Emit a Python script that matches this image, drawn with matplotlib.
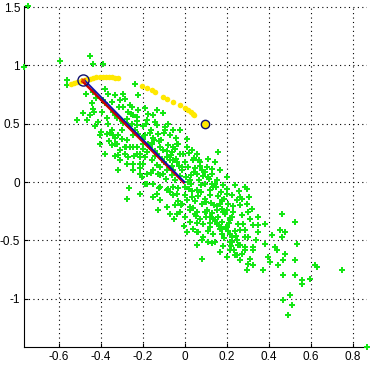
import numpy as np
import matplotlib
matplotlib.use('Agg')
import matplotlib.pyplot as plt

plt.rcParams['font.family'] = ['Liberation Sans', 'DejaVu Sans']
plt.rcParams['axes.unicode_minus'] = False

# green sample cloud
cloud_x = [
    -0.745, -0.763, -0.593, -0.45, -0.434, -0.387, -0.558, -0.561, -0.47, -0.434,
    -0.379, -0.363, -0.236, -0.22, -0.291, -0.442, -0.482, -0.45, -0.434, -0.394,
    -0.347, -0.307, -0.291, -0.251, -0.513, -0.466, -0.41, -0.426, -0.363, -0.347,
    -0.299, -0.315, -0.268, -0.244, -0.228, -0.331, -0.331, -0.283, -0.26, -0.43,
    -0.402, -0.379, -0.347, -0.323, -0.299, -0.275, -0.315, -0.283, -0.26, -0.228,
    -0.268, -0.402, -0.355, -0.331, -0.221, -0.188, -0.15, -0.102, -0.179, -0.131,
    -0.226, -0.331, -0.307, -0.244, -0.212, -0.164, -0.156, -0.132, -0.117, -0.085,
    -0.053, -0.021, 0.01, 0.042, 0.058, -0.053, -0.101, -0.149, -0.18, -0.196,
    -0.244, -0.275, -0.307, -0.274, -0.37, -0.339, -0.315, -0.212, -0.204, -0.263,
    -0.125, -0.18, -0.149, -0.132, -0.125, -0.228, -0.196, -0.164, -0.244, -0.275,
    -0.172, -0.132, -0.14, -0.093, -0.053, 0.01, 0.034, 0.058, 0.074, 0.106,
    0.13, 0.161, -0.283, -0.244, -0.212, -0.188, -0.117, -0.085, -0.069, -0.045,
    -0.077, -0.037, 0.026, 0.058, 0.098, 0.137, 0.121, 0.034, -0.149, -0.212,
    -0.013, -0.101, -0.156, -0.196, -0.22, -0.125, -0.109, -0.006, -0.03, -0.132,
    -0.188, -0.212, 0.098, -0.085, -0.053, -0.117, -0.085, -0.045, -0.021, 0.026,
    0.05, 0.026, 0.09, 0.121, 0.153, 0.137, 0.177, 0.201, 0.225, 0.193,
    0.169, 0.209, 0.225, 0.249, 0.185, 0.13, 0.082, 0.01, 0.058, 0.082,
    0.113, 0.145, 0.058, 0.082, 0.169, 0.201, 0.225, 0.217, 0.249, 0.256,
    0.002, -0.053, -0.117, 0.01, -0.013, -0.037, -0.069, 0.074, 0.106, 0.153,
    0.177, 0.217, 0.232, 0.256, 0.121, 0.169, 0.24, 0.288, 0.201, 0.177,
    0.272, 0.309, 0.296, 0.264, 0.32, 0.201, 0.272, 0.312, 0.463, 0.526,
    0.383, 0.351, 0.328, 0.264, 0.288, 0.217, 0.304, 0.351, 0.415, 0.455,
    0.479, 0.463, 0.534, 0.383, 0.431, 0.439, 0.479, 0.47, 0.526, 0.399,
    0.407, 0.328, 0.288, 0.272, 0.264, 0.312, 0.304, 0.328, 0.296, 0.375,
    0.447, 0.47, 0.526, 0.558, 0.558, 0.598, 0.621, 0.63, 0.749, 0.47,
    0.502, 0.51, 0.494, 0.24, 0.264, 0.217, 0.249, 0.868, 0.288, 0.328,
    0.13, 0.169, 0.201, 0.296, 0.264, 0.153, 0.113, 0.145,
    -0.02, 0.03, 0.07, -0.06, 0.0, 0.05, -0.04, 0.09, 0.12, 0.08,
    -0.09, -0.07, 0.02, 0.1, 0.04, -0.03, 0.14, 0.18, 0.16, 0.2,
    0.0, 0.06, 0.1, 0.13, -0.1, -0.14, -0.18, -0.12, -0.08, -0.04,
    -0.2, -0.24, -0.1, -0.16, -0.19, -0.06, 0.02, 0.07, 0.11, -0.16,
    -0.21, -0.12, 0.05, 0.15, 0.19, 0.23, 0.21, 0.16, 0.11, 0.04,
    0.13, 0.19, 0.24, 0.28, 0.3, 0.26, 0.35, 0.29, 0.34, 0.22,
    -0.3, -0.27, -0.34, -0.38, -0.4, -0.36, -0.25, -0.2, -0.08, -0.02,
    -0.15, -0.28, -0.33, -0.06, -0.01, 0.03, 0.08, -0.03, 0.0, 0.06,
    -0.05, 0.12, 0.18, 0.09,
    0.015, 0.045, 0.085, 0.115, 0.145, 0.175, -0.035, -0.065, 0.035, 0.065,
    0.095, 0.125, 0.155, 0.185, 0.215, -0.015, 0.025, 0.055, 0.105, 0.135,
    0.165, 0.195, 0.225, 0.245, 0.075, 0.045, 0.005, -0.025, -0.055, -0.085,
    -0.115, -0.145, -0.175, -0.205, -0.235, -0.265, -0.295, -0.32, -0.14, -0.11,
    -0.07, -0.035, 0.015, 0.095, 0.145, 0.205, 0.235, 0.185, 0.065, -0.005,
    -0.045, -0.095, -0.165, -0.185, -0.225, -0.255, -0.31, -0.37, -0.39, -0.42,
]
cloud_y = [
    1.51, 0.99, 1.04, 1.08, 1.015, 1.015, 0.877, 0.835, 0.758, 0.772,
    0.80, 0.758, 0.844, 0.744, 0.758, 0.678, 0.592, 0.572, 0.63, 0.60,
    0.686, 0.70, 0.643, 0.643, 0.53, 0.53, 0.515, 0.478, 0.50, 0.443,
    0.443, 0.40, 0.486, 0.40, 0.557, 0.572, 0.744, 0.715, 0.658, 0.60,
    0.33, 0.243, 0.315, 0.33, 0.372, 0.358, 0.229, 0.243, 0.30, 0.30,
    0.214, 0.40, 0.417, 0.375, 0.615, 0.632, 0.572, 0.589, 0.53, 0.486,
    0.486, 0.329, 0.272, 0.30, 0.214, 0.30, 0.186, 0.243, 0.129, 0.214,
    0.30, 0.243, 0.30, 0.186, 0.072, 0.10, 0.072, 0.10, 0.072, 0.158,
    0.10, 0.158, 0.186, -0.15, 0.415, 0.40, 0.10, 0.158, 0.043, -0.048,
    -0.243, -0.014, -0.014, -0.10, 0.072, 0.243, 0.286, 0.315, 0.572, 0.544,
    0.587, 0.615, 0.515, 0.472, 0.443, 0.372, 0.272, 0.243, 0.172, 0.129,
    0.072, 0.257, 0.30, 0.158, 0.072, -0.014, 0.057, 0.10, 0.186, 0.015,
    -0.057, -0.10, 0.015, -0.071, -0.014, -0.043, -0.114, -0.129, -0.129, -0.10,
    0.129, 0.272, 0.329, 0.372, 0.415, 0.415, 0.20, 0.243, 0.329, 0.143,
    0.214, 0.243, 0.086, -0.071, -0.114, -0.157, -0.214, -0.20, -0.257, -0.214,
    -0.271, -0.343, -0.357, -0.30, -0.357, -0.443, -0.443, -0.386, -0.30, -0.271,
    -0.185, -0.185, -0.114, -0.157, -0.028, -0.014, -0.185, -0.429, -0.429, -0.50,
    -0.515, -0.515, -0.543, -0.657, -0.60, -0.643, -0.515, -0.586, -0.629, -0.543,
    -0.043, -0.043, -0.043, -0.157, -0.185, -0.271, -0.271, -0.314, -0.243, -0.243,
    -0.343, -0.329, -0.257, -0.357, -0.386, -0.40, -0.028, -0.043, -0.10, -0.157,
    -0.143, -0.129, -0.185, -0.20, -0.228, -0.243, -0.286, -0.314, -0.271, -0.343,
    -0.357, -0.371, -0.371, -0.414, -0.414, -0.443, -0.472, -0.429, -0.457, -0.414,
    -0.429, -0.472, -0.528, -0.528, -0.557, -0.586, -0.614, -0.672, -0.672, -0.643,
    -0.686, -0.586, -0.586, -0.614, -0.672, -0.657, -0.70, -0.714, -0.757, -0.757,
    -0.714, -0.80, -0.80, -0.843, -0.871, -0.829, -0.714, -0.729, -0.757, -1.009,
    -0.972, -1.057, -1.137, -0.629, -0.543, -0.515, -0.50, -1.418, -0.557, -0.557,
    0.115, 0.10, 0.043, -0.057, -0.129, 0.015, 0.043, 0.172,
    0.05, -0.02, 0.02, 0.06, 0.17, 0.12, 0.2, 0.05, -0.07, -0.09,
    0.03, -0.09, -0.06, -0.17, -0.22, -0.16, -0.2, -0.23, -0.12, -0.06,
    -0.3, -0.35, -0.3, -0.27, 0.17, 0.22, 0.26, 0.35, 0.32, 0.38,
    0.33, 0.22, 0.42, 0.45, 0.4, 0.26, 0.25, 0.19, 0.2, 0.08,
    0.12, -0.05, -0.16, -0.04, -0.15, -0.21, -0.35, -0.3, -0.42, -0.4,
    -0.52, -0.48, -0.42, -0.36, -0.26, -0.08, -0.3, -0.47, -0.5, -0.55,
    0.52, 0.6, 0.6, 0.68, 0.43, 0.35, 0.5, 0.48, 0.5, 0.45,
    0.38, 0.3, 0.22, 0.14, 0.1, 0.06, -0.03, -0.05, -0.11, -0.26,
    -0.32, -0.35, -0.4, -0.47,
    0.13, 0.09, 0.1, 0.03, -0.02, -0.09, 0.17, 0.23, -0.08, -0.12,
    -0.15, -0.18, -0.21, -0.26, -0.31, -0.2, -0.24, -0.29, -0.25, -0.32,
    -0.37, -0.39, -0.47, -0.46, 0.14, 0.21, 0.04, 0.14, 0.19, 0.27,
    0.3, 0.36, 0.33, 0.38, 0.45, 0.48, 0.51, 0.55, 0.27, 0.36,
    0.4, 0.33, 0.0, -0.26, -0.33, -0.42, -0.58, -0.55, -0.43, -0.38,
    0.28, 0.45, 0.42, 0.5, 0.52, 0.58, 0.64, 0.55, 0.7, 0.72,
]

# yellow path of the estimate
path_x = [-0.54, -0.525, -0.51, -0.495, -0.48, -0.465, -0.45, -0.435, -0.42, -0.405,
          -0.39, -0.375, -0.36, -0.345, -0.33, -0.315,
          -0.204, -0.18, -0.156, -0.14, -0.101, -0.085, -0.053, -0.021, 0.002, 0.018,
          0.03, 0.039, 0.045, 0.098]
path_y = [0.84, 0.848, 0.857, 0.865, 0.873, 0.88, 0.887, 0.893, 0.898, 0.90,
          0.902, 0.902, 0.90, 0.898, 0.895, 0.89,
          0.821, 0.806, 0.792, 0.772, 0.729, 0.712, 0.686, 0.658, 0.638, 0.615,
          0.60, 0.587, 0.575, 0.50]

# start / end of the path and the direction lines
start_pt = (0.098, 0.50)
end_pt = (-0.482, 0.872)
red_x = [-0.486, -0.004]
red_y = [0.864, -0.004]
blue_x = [-0.478, 0.0]
blue_y = [0.876, 0.0]

fig = plt.figure(figsize=(3.74, 3.69), dpi=100)
ax = fig.add_axes([0.065, 0.0588, 0.916, 0.925])

ax.plot(cloud_x, cloud_y, 'P', color='#14e614', ms=4.2, mew=0, clip_on=False, zorder=3)
ax.plot(path_x, path_y, 'o', color='#ffe800', ms=4.0, mew=0, zorder=4)
ax.plot(red_x, red_y, '-', color='#cc0000', lw=1.8, zorder=5)
ax.plot(blue_x, blue_y, '-', color='#1010b0', lw=1.3, zorder=6)
ax.plot(end_pt[0], end_pt[1], 'o', mfc='none', mec='#10106e', ms=8, mew=1.0, zorder=7)
ax.plot(end_pt[0], end_pt[1], 'x', color='#e04000', ms=3.5, mew=1.0, zorder=7)
ax.plot(start_pt[0], start_pt[1], 'o', mfc='#ffe800', mec='#10106e', ms=6, mew=1.0, zorder=7)

ax.set_xlim(min(cloud_x), max(cloud_x))
ax.set_ylim(min(cloud_y), max(cloud_y))
ax.set_xticks([-0.6, -0.4, -0.2, 0, 0.2, 0.4, 0.6, 0.8])
ax.set_xticklabels(['-0.6', '-0.4', '-0.2', '0', '0.2', '0.4', '0.6', '0.8'])
ax.set_yticks([-1, -0.5, 0, 0.5, 1, 1.5])
ax.set_yticklabels(['-1', '-0.5', '0', '0.5', '1', '1.5'])
ax.tick_params(direction='in', length=3, width=0.8, labelsize=8.5, pad=3)
ax.grid(True, color='black', linestyle=(0, (1, 3)), linewidth=0.8)
ax.set_axisbelow(True)
ax.spines['top'].set_visible(False)
ax.spines['right'].set_visible(False)

fig.savefig('out.png', dpi=100)
